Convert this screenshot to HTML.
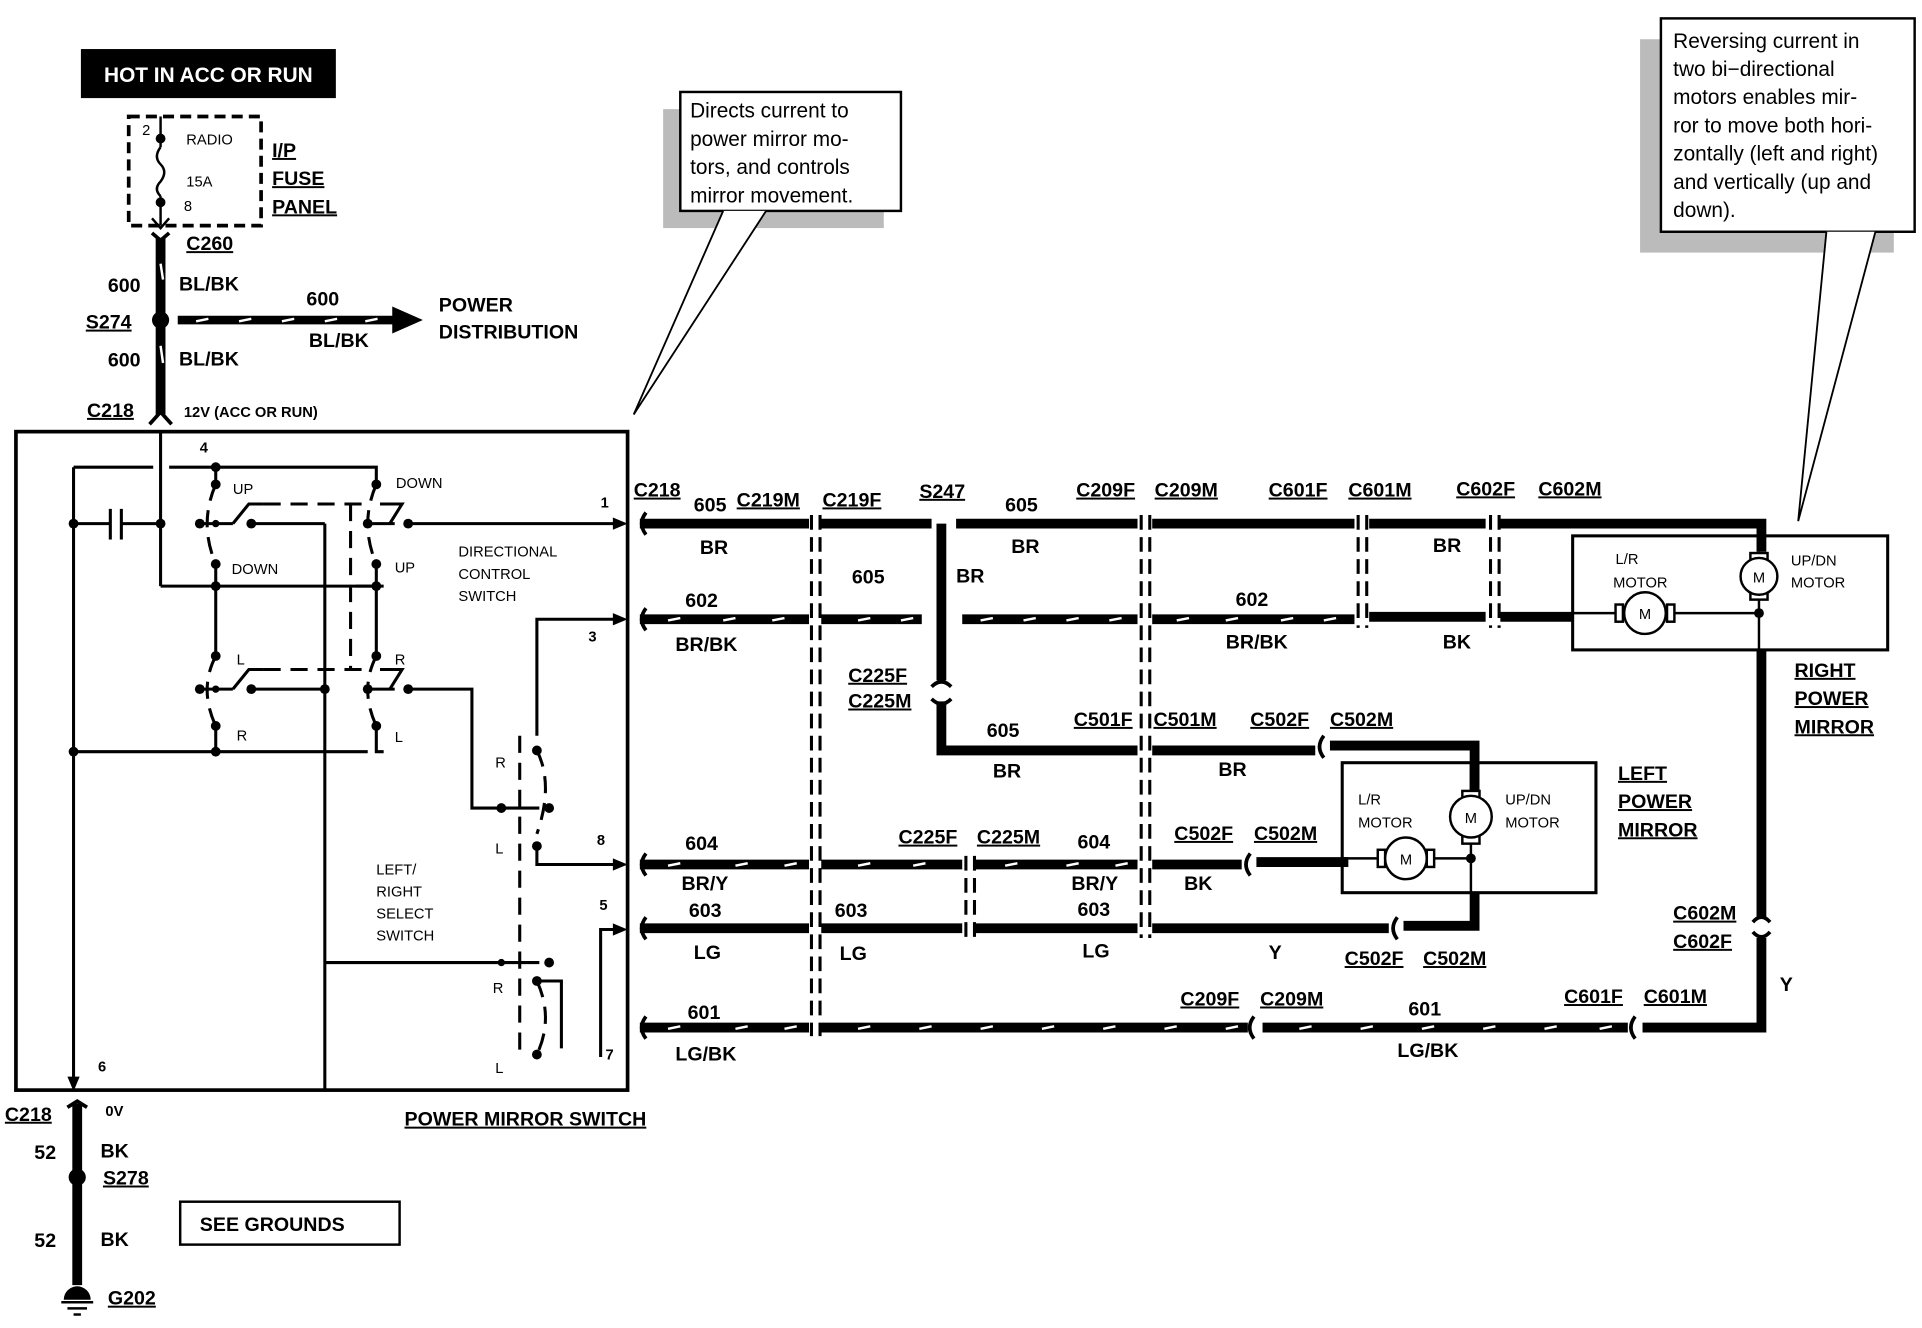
<!DOCTYPE html>
<html><head><meta charset="utf-8"><style>
html,body{margin:0;padding:0;background:#fff;}
svg{display:block}
text{font-family:"Liberation Sans",Arial,sans-serif;fill:#000}
.b{font-weight:bold;font-size:16px}
.s{font-size:12px}
.sb{font-size:12px;font-weight:bold}
.c{font-size:17px}
</style></head><body>
<svg width="1922" height="1328" viewBox="0 0 1568 1083" preserveAspectRatio="none" xmlns="http://www.w3.org/2000/svg">
<rect width="1568" height="1083" fill="#fff"/>
<!-- HOT box -->
<rect x="66" y="40" width="208" height="40" fill="#000"/>
<text x="170" y="67" text-anchor="middle" style="fill:#fff;font-weight:bold;font-size:17px;font-family:'Liberation Sans',sans-serif">HOT IN ACC OR RUN</text>
<!-- fuse -->
<rect x="105" y="95" width="108" height="89" fill="none" stroke="#000" stroke-width="3" stroke-dasharray="9,5"/>
<line x1="131" y1="95" x2="131" y2="120" stroke="#000" stroke-width="2"/>
<circle cx="131" cy="113" r="4"/>
<path d="M131 120 q-6 8 0 14 q6 6 0 14 q-6 6 0 12" fill="none" stroke="#000" stroke-width="2"/>
<circle cx="131" cy="165" r="4"/>
<line x1="131" y1="160" x2="131" y2="184" stroke="#000" stroke-width="2"/>
<path d="M124 178 L131 186 L138 178" fill="none" stroke="#000" stroke-width="2"/>
<text x="116" y="110" class="s">2</text><text x="152" y="118" class="s">RADIO</text>
<text x="152" y="152" class="s">15A</text><text x="150" y="172" class="s">8</text>
<text x="222" y="128" class="b" text-decoration="underline">I/P</text>
<text x="222" y="151" class="b" text-decoration="underline">FUSE</text>
<text x="222" y="174" class="b" text-decoration="underline">PANEL</text>
<!-- main feed -->
<path d="M124 190 L131 196 L138 190" fill="none" stroke="#000" stroke-width="3"/>
<line x1="131" y1="194" x2="131" y2="338" stroke="#000" stroke-width="8"/>
<line x1="131" y1="215" x2="133" y2="228" stroke="#fff" stroke-width="2"/>
<line x1="131" y1="282" x2="133" y2="296" stroke="#fff" stroke-width="2"/>
<path d="M122 346 L131 336 L140 346" fill="none" stroke="#000" stroke-width="3"/>
<circle cx="131" cy="261" r="7"/>
<text x="152" y="204" class="b" text-decoration="underline">C260</text>
<text x="88" y="238" class="b">600</text><text x="146" y="237" class="b">BL/BK</text>
<text x="70" y="268" class="b" text-decoration="underline">S274</text>
<text x="88" y="299" class="b">600</text><text x="146" y="298" class="b">BL/BK</text>
<text x="71" y="340" class="b" text-decoration="underline">C218</text>
<text x="150" y="340" class="sb">12V (ACC OR RUN)</text>
<line x1="145" y1="261" x2="325" y2="261" stroke="#000" stroke-width="7"/>
<g stroke="#fff" stroke-width="2"><line x1="160" y1="262" x2="170" y2="260"/><line x1="195" y1="262" x2="205" y2="260"/><line x1="230" y1="262" x2="240" y2="260"/><line x1="265" y1="262" x2="275" y2="260"/><line x1="298" y1="262" x2="308" y2="260"/></g>
<polygon points="320,250 345,261 320,272"/>
<text x="250" y="249" class="b">600</text><text x="252" y="283" class="b">BL/BK</text>
<text x="358" y="254" class="b">POWER</text><text x="358" y="276" class="b">DISTRIBUTION</text>
<!-- callout 1 -->
<rect x="541" y="89" width="180" height="97" fill="#bbb"/>
<rect x="555" y="75" width="180" height="97" fill="#fff" stroke="#000" stroke-width="2"/>
<path d="M590 172 L517 338 L625 172" fill="#fff" stroke="#000" stroke-width="1.5"/>
<text x="563" y="96" class="c">Directs current to</text>
<text x="563" y="119" class="c">power mirror mo-</text>
<text x="563" y="142" class="c">tors, and controls</text>
<text x="563" y="165" class="c">mirror movement.</text>
<!-- callout 2 -->
<rect x="1338" y="32" width="207" height="174" fill="#bbb"/>
<rect x="1355" y="15" width="207" height="174" fill="#fff" stroke="#000" stroke-width="2"/>
<path d="M1490 189 L1467 425 L1530 189" fill="#fff" stroke="#000" stroke-width="1.5"/>
<text x="1365" y="39" class="c">Reversing current in</text>
<text x="1365" y="62" class="c">two   bi−directional</text>
<text x="1365" y="85" class="c">motors enables mir-</text>
<text x="1365" y="108" class="c">ror to move both hori-</text>
<text x="1365" y="131" class="c">zontally (left and right)</text>
<text x="1365" y="154" class="c">and vertically (up and</text>
<text x="1365" y="177" class="c">down).</text>
<!-- switch box -->
<rect x="13" y="352" width="499" height="537" fill="none" stroke="#000" stroke-width="3"/>
<g stroke="#000" stroke-width="2.5" fill="none">
<line x1="131" y1="352" x2="131" y2="478"/>
<polyline points="131,478 300,478"/><line x1="313" y1="478" x2="300" y2="478"/>
<polyline points="60,381 125,381"/><polyline points="138,381 307,381 307,392"/>
<line x1="60" y1="381" x2="60" y2="885"/>
<line x1="60" y1="427" x2="90" y2="427"/><line x1="99" y1="427" x2="131" y2="427"/>
<line x1="90" y1="415" x2="90" y2="440"/><line x1="99" y1="415" x2="99" y2="440"/>
<line x1="176" y1="381" x2="176" y2="392"/>
<line x1="176" y1="462" x2="176" y2="478"/><line x1="176" y1="478" x2="176" y2="532"/>
<line x1="176" y1="595" x2="176" y2="613"/>
<line x1="163" y1="427" x2="190" y2="427"/><line x1="205" y1="427" x2="265" y2="427"/><line x1="265" y1="427" x2="265" y2="890"/>
<polyline points="190,427 203,411 215,411"/>
<line x1="163" y1="562" x2="190" y2="562"/><line x1="205" y1="562" x2="265" y2="562"/>
<polyline points="190,562 203,546 215,546"/>
<line x1="307" y1="462" x2="307" y2="532"/><line x1="307" y1="478" x2="290" y2="478"/>
<line x1="300" y1="427" x2="322" y2="427"/><polyline points="310,411 328,411 318,427"/>
<line x1="300" y1="562" x2="322" y2="562"/><polyline points="310,546 328,546 318,562"/>
<line x1="333" y1="427" x2="505" y2="427"/>
<polyline points="333,562 385,562 385,659 440,659"/>
<line x1="60" y1="613" x2="300" y2="613"/><polyline points="313,613 307,613 307,595"/>
<line x1="265" y1="785" x2="440" y2="785"/>
<polyline points="438,600 438,505 505,505"/>
<polyline points="438,690 438,705 505,705"/>
<polyline points="438,800 458,800 458,855"/>
<polyline points="490,862 490,758 505,758"/>
</g>
<g stroke="#000" stroke-width="2.5" fill="none" stroke-dasharray="14,8">
<polyline points="215,411 300,411"/><polyline points="215,546 300,546"/>
<line x1="286" y1="411" x2="286" y2="546"/>
<path d="M176 395 Q162 427 176 460"/><path d="M176 535 Q162 562 176 592"/>
<path d="M307 395 Q293 427 307 460"/><path d="M307 535 Q293 562 307 592"/>
<line x1="424" y1="600" x2="424" y2="860"/>
<path d="M438 612 Q452 640 438 680"/><path d="M438 800 Q452 830 438 860"/>
</g>
<g fill="#000">
<circle cx="60" cy="427" r="4"/><circle cx="131" cy="427" r="4"/><circle cx="60" cy="613" r="4"/>
<circle cx="176" cy="381" r="4"/><circle cx="176" cy="395" r="4"/><circle cx="176" cy="460" r="4"/><circle cx="176" cy="478" r="4"/>
<circle cx="163" cy="427" r="4"/><circle cx="176" cy="427" r="3"/><circle cx="205" cy="427" r="4"/>
<circle cx="176" cy="535" r="4"/><circle cx="176" cy="592" r="4"/><circle cx="176" cy="613" r="4"/>
<circle cx="163" cy="562" r="4"/><circle cx="176" cy="562" r="3"/><circle cx="205" cy="562" r="4"/><circle cx="265" cy="562" r="4"/>
<circle cx="307" cy="395" r="4"/><circle cx="307" cy="460" r="4"/><circle cx="307" cy="478" r="4"/>
<circle cx="307" cy="535" r="4"/><circle cx="307" cy="592" r="4"/>
<circle cx="300" cy="427" r="4"/><circle cx="333" cy="427" r="4"/><circle cx="300" cy="562" r="4"/><circle cx="333" cy="562" r="4"/>
<circle cx="409" cy="659" r="4"/><circle cx="438" cy="612" r="4"/><circle cx="438" cy="690" r="4"/><circle cx="448" cy="659" r="4"/>
<circle cx="409" cy="785" r="3"/><circle cx="438" cy="800" r="4"/><circle cx="438" cy="860" r="4"/><circle cx="448" cy="785" r="4"/>
<polygon points="500,422 512,427 500,432"/><polygon points="500,500 512,505 500,510"/>
<polygon points="500,700 512,705 500,710"/><polygon points="500,753 512,758 500,763"/>
<polygon points="55,878 60,890 65,878"/>
</g>
<g class="s">
<text x="163" y="369" class="sb">4</text><text x="190" y="403" class="s">UP</text><text x="323" y="398" class="s">DOWN</text>
<text x="189" y="468" class="s">DOWN</text><text x="322" y="467" class="s">UP</text>
<text x="374" y="454" class="s">DIRECTIONAL</text><text x="374" y="472" class="s">CONTROL</text><text x="374" y="490" class="s">SWITCH</text>
<text x="193" y="542" class="s">L</text><text x="322" y="542" class="s">R</text>
<text x="193" y="604" class="s">R</text><text x="322" y="605" class="s">L</text>
<text x="490" y="414" class="sb">1</text><text x="480" y="523" class="sb">3</text><text x="404" y="626" class="s">R</text>
<text x="404" y="696" class="s">L</text><text x="487" y="689" class="sb">8</text><text x="489" y="742" class="sb">5</text>
<text x="307" y="713" class="s">LEFT/</text><text x="307" y="731" class="s">RIGHT</text><text x="307" y="749" class="s">SELECT</text><text x="307" y="767" class="s">SWITCH</text>
<text x="402" y="810" class="s">R</text><text x="404" y="875" class="s">L</text><text x="494" y="864" class="sb">7</text>
<text x="80" y="874" class="sb">6</text>
</g>
<text x="330" y="918" class="b" text-decoration="underline">POWER MIRROR SWITCH</text>
<!-- ground -->
<path d="M55 903 L63 898 L71 903" fill="none" stroke="#000" stroke-width="3"/>
<line x1="63" y1="900" x2="63" y2="1048" stroke="#000" stroke-width="8"/>
<circle cx="63" cy="960" r="7"/>
<path d="M52 1060 a11 11 0 0 1 22 0 z"/><line x1="50" y1="1062" x2="76" y2="1062" stroke="#000" stroke-width="2"/><line x1="55" y1="1067" x2="71" y2="1067" stroke="#000" stroke-width="2"/><line x1="60" y1="1072" x2="66" y2="1072" stroke="#000" stroke-width="2"/>
<text x="4" y="914" class="b" text-decoration="underline">C218</text><text x="86" y="910" class="sb">0V</text>
<text x="28" y="945" class="b">52</text><text x="82" y="944" class="b">BK</text>
<text x="84" y="966" class="b" text-decoration="underline">S278</text>
<text x="28" y="1017" class="b">52</text><text x="82" y="1016" class="b">BK</text>
<text x="88" y="1064" class="b" text-decoration="underline">G202</text>
<rect x="147" y="980" width="179" height="35" fill="none" stroke="#000" stroke-width="2"/>
<text x="163" y="1004" class="b">SEE GROUNDS</text>
<!-- harness wires -->
<g stroke="#000" stroke-width="8" fill="none">
<line x1="522" y1="427" x2="660" y2="427"/><line x1="670" y1="427" x2="760" y2="427"/>
<line x1="780" y1="427" x2="928" y2="427"/><line x1="940" y1="427" x2="1105" y2="427"/>
<line x1="1117" y1="427" x2="1212" y2="427"/><polyline points="1224,427 1437,427 1437,450"/>
<line x1="768" y1="427" x2="768" y2="555"/><polyline points="768,572 768,612 928,612"/>
<line x1="940" y1="612" x2="1073" y2="612"/><polyline points="1085,608 1203,608 1203,645"/>
<line x1="522" y1="505" x2="660" y2="505"/><line x1="670" y1="505" x2="752" y2="505"/>
<line x1="785" y1="505" x2="928" y2="505"/><line x1="940" y1="505" x2="1105" y2="505"/>
<line x1="1117" y1="503" x2="1212" y2="503"/><line x1="1224" y1="503" x2="1283" y2="503"/>
<line x1="522" y1="705" x2="660" y2="705"/><line x1="670" y1="705" x2="785" y2="705"/>
<line x1="795" y1="705" x2="928" y2="705"/><line x1="940" y1="705" x2="1013" y2="705"/><line x1="1025" y1="703" x2="1100" y2="703"/>
<line x1="522" y1="757" x2="660" y2="757"/><line x1="670" y1="757" x2="785" y2="757"/>
<line x1="795" y1="757" x2="928" y2="757"/><line x1="940" y1="757" x2="1133" y2="757"/><polyline points="1145,755 1203,755 1203,728"/>
<line x1="522" y1="838" x2="660" y2="838"/><line x1="670" y1="838" x2="1018" y2="838"/>
<line x1="1030" y1="838" x2="1328" y2="838"/><polyline points="1340,838 1437,838 1437,765"/>
<line x1="1437" y1="530" x2="1437" y2="748"/>
</g>
<g stroke="#fff" stroke-width="2">
<line x1="545" y1="506" x2="555" y2="504"/><line x1="590" y1="506" x2="600" y2="504"/><line x1="630" y1="506" x2="640" y2="504"/><line x1="700" y1="506" x2="710" y2="504"/><line x1="735" y1="506" x2="745" y2="504"/>
<line x1="800" y1="506" x2="810" y2="504"/><line x1="835" y1="506" x2="845" y2="504"/><line x1="870" y1="506" x2="880" y2="504"/><line x1="905" y1="506" x2="915" y2="504"/><line x1="960" y1="506" x2="970" y2="504"/><line x1="1000" y1="506" x2="1010" y2="504"/><line x1="1045" y1="506" x2="1055" y2="504"/><line x1="1080" y1="506" x2="1090" y2="504"/>
<line x1="545" y1="706" x2="555" y2="704"/><line x1="600" y1="706" x2="610" y2="704"/><line x1="640" y1="706" x2="650" y2="704"/><line x1="700" y1="706" x2="710" y2="704"/><line x1="745" y1="706" x2="755" y2="704"/><line x1="820" y1="706" x2="830" y2="704"/><line x1="870" y1="706" x2="880" y2="704"/><line x1="910" y1="706" x2="920" y2="704"/>
<line x1="545" y1="839" x2="555" y2="837"/><line x1="600" y1="839" x2="610" y2="837"/><line x1="640" y1="839" x2="650" y2="837"/>
<line x1="700" y1="839" x2="710" y2="837"/><line x1="750" y1="839" x2="760" y2="837"/><line x1="800" y1="839" x2="810" y2="837"/><line x1="850" y1="839" x2="860" y2="837"/><line x1="900" y1="839" x2="910" y2="837"/><line x1="950" y1="839" x2="960" y2="837"/><line x1="1000" y1="839" x2="1010" y2="837"/><line x1="1060" y1="839" x2="1070" y2="837"/><line x1="1110" y1="839" x2="1120" y2="837"/><line x1="1160" y1="839" x2="1170" y2="837"/><line x1="1210" y1="839" x2="1220" y2="837"/><line x1="1260" y1="839" x2="1270" y2="837"/><line x1="1305" y1="839" x2="1315" y2="837"/>
</g>
<g stroke="#000" stroke-width="2.5" fill="none" stroke-dasharray="12,6">
<line x1="662" y1="420" x2="662" y2="845"/><line x1="669" y1="420" x2="669" y2="845"/>
<line x1="931" y1="420" x2="931" y2="765"/><line x1="938" y1="420" x2="938" y2="765"/>
<line x1="1108" y1="420" x2="1108" y2="512"/><line x1="1115" y1="420" x2="1115" y2="512"/>
<line x1="1216" y1="420" x2="1216" y2="512"/><line x1="1223" y1="420" x2="1223" y2="512"/>
<line x1="788" y1="698" x2="788" y2="765"/><line x1="795" y1="698" x2="795" y2="765"/>
</g>
<g stroke="#000" stroke-width="3" fill="none">
<path d="M760 560 q8 -8 16 0"/><path d="M760 570 q8 8 16 0"/>
<path d="M1430 752 q7 -8 14 0"/><path d="M1430 760 q7 8 14 0"/>
<path d="M527 418 q-7 9 0 18"/><path d="M527 496 q-7 9 0 18"/><path d="M527 696 q-7 9 0 18"/><path d="M527 748 q-7 9 0 18"/><path d="M527 829 q-7 9 0 18"/>
<path d="M1020 696 q-7 9 0 18"/><path d="M1140 748 q-7 9 0 18"/><path d="M1080 600 q-7 9 0 18"/><path d="M1023 829 q-7 9 0 18"/><path d="M1334 829 q-7 9 0 18"/>
</g>
<!-- right mirror -->
<rect x="1283" y="437" width="257" height="93" fill="none" stroke="#000" stroke-width="2.5"/>
<g stroke="#000" stroke-width="2" fill="#fff">
<line x1="1283" y1="500" x2="1435" y2="500"/><line x1="1435" y1="450" x2="1435" y2="530"/>
<rect x="1428" y="451" width="14" height="6"/><rect x="1428" y="483" width="14" height="6"/><circle cx="1435" cy="470" r="15"/>
<rect x="1318" y="493" width="6" height="14"/><rect x="1360" y="493" width="6" height="14"/><circle cx="1342" cy="500" r="17"/>
</g>
<circle cx="1435" cy="500" r="4"/>
<text x="1435" y="475" text-anchor="middle" class="s">M</text><text x="1342" y="505" text-anchor="middle" class="s">M</text>
<text x="1318" y="460" class="s">L/R</text><text x="1316" y="479" class="s">MOTOR</text>
<text x="1461" y="461" class="s">UP/DN</text><text x="1461" y="479" class="s">MOTOR</text>
<text x="1464" y="552" class="b" text-decoration="underline">RIGHT</text>
<text x="1464" y="575" class="b" text-decoration="underline">POWER</text>
<text x="1464" y="598" class="b" text-decoration="underline">MIRROR</text>
<!-- left mirror -->
<rect x="1095" y="622" width="207" height="106" fill="none" stroke="#000" stroke-width="2.5"/>
<g stroke="#000" stroke-width="2" fill="#fff">
<line x1="1095" y1="700" x2="1200" y2="700"/><line x1="1200" y1="622" x2="1200" y2="728"/>
<rect x="1193" y="645" width="14" height="6"/><rect x="1193" y="682" width="14" height="6"/><circle cx="1200" cy="666" r="17"/>
<rect x="1124" y="693" width="6" height="14"/><rect x="1164" y="693" width="6" height="14"/><circle cx="1147" cy="700" r="17"/>
</g>
<circle cx="1200" cy="700" r="4"/>
<text x="1200" y="671" text-anchor="middle" class="s">M</text><text x="1147" y="705" text-anchor="middle" class="s">M</text>
<text x="1108" y="656" class="s">L/R</text><text x="1108" y="675" class="s">MOTOR</text>
<text x="1228" y="656" class="s">UP/DN</text><text x="1228" y="675" class="s">MOTOR</text>
<text x="1320" y="636" class="b" text-decoration="underline">LEFT</text>
<text x="1320" y="659" class="b" text-decoration="underline">POWER</text>
<text x="1320" y="682" class="b" text-decoration="underline">MIRROR</text>
<!-- harness labels -->
<g class="b">
<text x="517" y="405" text-decoration="underline">C218</text><text x="566" y="417">605</text><text x="601" y="413" text-decoration="underline">C219M</text><text x="671" y="413" text-decoration="underline">C219F</text>
<text x="750" y="406" text-decoration="underline">S247</text><text x="820" y="417">605</text>
<text x="878" y="405" text-decoration="underline">C209F</text><text x="942" y="405" text-decoration="underline">C209M</text>
<text x="1035" y="405" text-decoration="underline">C601F</text><text x="1100" y="405" text-decoration="underline">C601M</text>
<text x="1188" y="404" text-decoration="underline">C602F</text><text x="1255" y="404" text-decoration="underline">C602M</text>
<text x="571" y="452">BR</text><text x="825" y="451">BR</text><text x="780" y="475">BR</text><text x="1169" y="450">BR</text>
<text x="695" y="476">605</text>
<text x="559" y="495">602</text><text x="551" y="531">BR/BK</text><text x="1008" y="494">602</text><text x="1000" y="529">BR/BK</text><text x="1177" y="529">BK</text>
<text x="692" y="556" text-decoration="underline">C225F</text><text x="692" y="577" text-decoration="underline">C225M</text>
<text x="805" y="601">605</text><text x="810" y="634">BR</text>
<text x="876" y="592" text-decoration="underline">C501F</text><text x="941" y="592" text-decoration="underline">C501M</text>
<text x="1020" y="592" text-decoration="underline">C502F</text><text x="1085" y="592" text-decoration="underline">C502M</text>
<text x="994" y="633">BR</text>
<text x="559" y="693">604</text><text x="733" y="688" text-decoration="underline">C225F</text><text x="797" y="688" text-decoration="underline">C225M</text><text x="879" y="692">604</text>
<text x="958" y="685" text-decoration="underline">C502F</text><text x="1023" y="685" text-decoration="underline">C502M</text>
<text x="556" y="726">BR/Y</text><text x="874" y="726">BR/Y</text><text x="966" y="726">BK</text>
<text x="562" y="748">603</text><text x="681" y="748">603</text><text x="879" y="747">603</text>
<text x="566" y="782">LG</text><text x="685" y="783">LG</text><text x="883" y="781">LG</text><text x="1035" y="782">Y</text>
<text x="1097" y="787" text-decoration="underline">C502F</text><text x="1161" y="787" text-decoration="underline">C502M</text>
<text x="1365" y="750" text-decoration="underline">C602M</text><text x="1365" y="773" text-decoration="underline">C602F</text>
<text x="1452" y="808">Y</text>
<text x="963" y="820" text-decoration="underline">C209F</text><text x="1028" y="820" text-decoration="underline">C209M</text><text x="1149" y="828">601</text>
<text x="1276" y="818" text-decoration="underline">C601F</text><text x="1341" y="818" text-decoration="underline">C601M</text>
<text x="561" y="831">601</text><text x="551" y="865">LG/BK</text><text x="1140" y="862">LG/BK</text>
</g>
</svg>
</body></html>
